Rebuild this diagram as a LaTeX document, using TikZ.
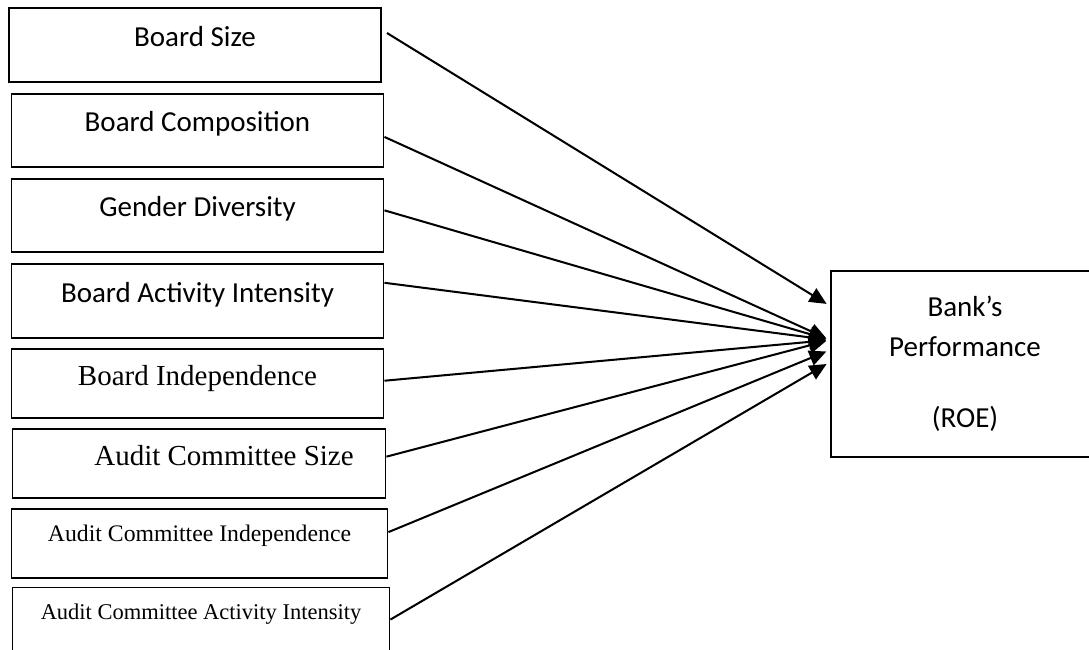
\documentclass[tikz,border=0pt]{standalone}
\usepackage{fontspec}
\setmainfont{Carlito}
\newfontfamily\timesfont{Liberation Serif}
\usetikzlibrary{positioning, arrows.meta}
\tikzset{
    factor/.style={draw, line width=1.1pt, inner sep=0pt, minimum width=7.44cm,
        text height=0.76cm, text depth=0.70cm, font=\fontsize{16.5}{20}\selectfont},
    timesbox/.style={font=\timesfont\fontsize{#1}{20}\selectfont},
    outcome/.style={draw, line width=1.1pt, minimum width=5.36cm, minimum height=3.72cm,
        align=center, font=\fontsize{16.5}{22.7}\selectfont},
    link/.style={-{Triangle[length=0.34cm, width=0.31cm]}, line width=1.15pt, shorten >=0.08cm}
}

\begin{document}
\begin{tikzpicture}[node distance=0.20cm]
    \useasboundingbox (0,0) rectangle (21.78,-13);

    % Governance factors
    \node[factor, text height=0.78cm] (bs) at (3.90,-0.90) {Board Size};
    \node[factor, below=of bs, xshift=0.05cm] (bc) {Board Composition};
    \node[factor, below=of bc] (gd) {Gender Diversity};
    \node[factor, text height=0.78cm, below=of gd] (bai) {Board Activity Intensity};
    \node[factor, timesbox=16.5, text height=0.74cm, text depth=0.64cm, below=0.18cm of bai] (bi) {Board Independence};
    \node[factor, timesbox=16.5, text height=0.74cm, text depth=0.64cm, minimum width=7.46cm, below=0.18cm of bi, xshift=0.03cm] (acs) {\hspace*{1cm}Audit Committee Size};
    \node[factor, timesbox=13.5, text height=0.64cm, text depth=0.74cm, minimum width=7.52cm, below=0.19cm of acs, xshift=0.01cm] (aci) {Audit Committee Independence};
    \node[factor, timesbox=12.8, text height=0.64cm, text depth=0.82cm, minimum width=7.54cm, below=0.15cm of aci, xshift=0.03cm] (acai) {Audit Committee Activity Intensity};

    % Outcome
    \node[outcome] (perf) at (19.30,-7.28) {Bank’s\\Performance\\[0.62cm](ROE)};

    % Links
    \draw[link] ([xshift=0.1cm, yshift=0.24cm]bs.east) -- ([yshift=1.16cm]perf.west);
    \draw[link] ([yshift=-0.13cm]bc.east) -- ([yshift=0.48cm]perf.west);
    \draw[link] ([yshift=0.10cm]gd.east) -- ([yshift=0.48cm]perf.west);
    \draw[link] ([yshift=0.36cm]bai.east) -- ([yshift=0.48cm]perf.west);
    \draw[link] ([yshift=0.05cm]bi.east) -- ([yshift=0.48cm]perf.west);
    \draw[link] ([yshift=0.13cm]acs.east) -- ([yshift=0.48cm]perf.west);
    \draw[link] ([yshift=0.23cm]aci.east) -- ([yshift=0.28cm]perf.west);
    \draw[link] ([yshift=0.09cm]acai.east) -- ([yshift=0.04cm]perf.west);
\end{tikzpicture}
\end{document}
